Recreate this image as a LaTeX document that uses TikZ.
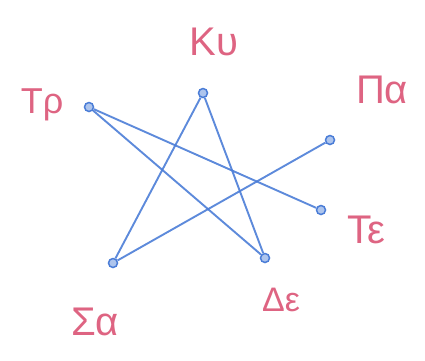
\documentclass[tikz,border=0pt]{standalone}
\usepackage{fontspec}
\setmainfont{Liberation Sans}
\definecolor{pen}{RGB}{75,125,215}
\definecolor{ink}{RGB}{222,100,130}
\begin{document}
\begin{tikzpicture}[x=1pt,y=-1pt,
  vert/.style={circle,draw=pen,fill=pen!45,line width=1.5pt,inner sep=0pt,minimum size=9pt},
  edge/.style={draw=pen,line width=1.9pt,opacity=0.9},
  lab/.style={text=ink,font=\fontsize{40}{42}\selectfont,inner sep=0pt}]
\useasboundingbox (0,0) rectangle (425,360);
\node[vert] (ku) at (203,93) {};
\node[vert] (tr) at (89,107) {};
\node[vert] (pa) at (330,140) {};
\node[vert] (te) at (321,210) {};
\node[vert] (de) at (265,258) {};
\node[vert] (sa) at (113,263) {};
\node[lab] (lku) at (214,42) {Κυ};
\node[lab,font=\fontsize{36}{38}\selectfont] (ltr) at (42,105) {Τρ};
\node[lab] (lpa) at (382,90) {Πα};
\node[lab] (lte) at (366,230) {Τε};
\node[lab,font=\fontsize{34}{36}\selectfont] (lde) at (281,300) {Δε};
\node[lab] (lsa) at (95,322) {Σα};
\draw[edge] (tr) -- (te);
\draw[edge] (tr) -- (de);
\draw[edge] (ku) -- (sa);
\draw[edge] (ku) -- (de);
\draw[edge] (sa) -- (pa);
\end{tikzpicture}
\end{document}
